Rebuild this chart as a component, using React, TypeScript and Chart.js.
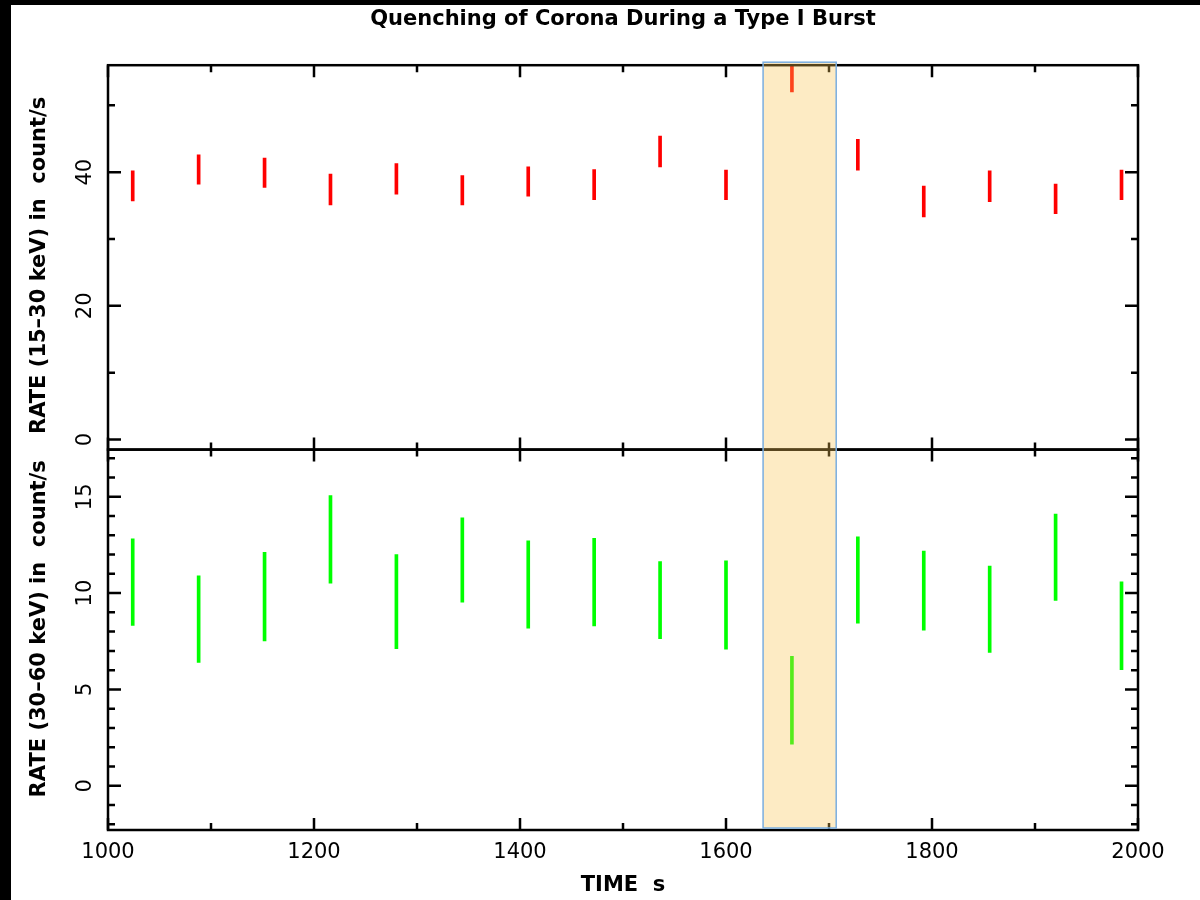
import React, { useEffect, useRef } from 'react';
import { Chart, registerables } from 'chart.js';

Chart.register(...registerables);

const TITLE = 'Quenching of Corona During a Type I Burst';
const X_TITLE = 'TIME  s';
const Y1_TITLE = 'RATE (15–30 keV) in  count/s';
const Y2_TITLE = 'RATE (30–60 keV) in  count/s';

const times = [1024, 1088, 1152, 1216, 1280, 1344, 1408, 1472, 1536, 1600, 1664, 1728, 1792, 1856, 1920, 1984];
const rate15to30 = [37.95, 40.4, 39.9, 37.4, 39.0, 37.3, 38.6, 38.15, 43.1, 38.1, 54.2, 42.6, 35.6, 37.9, 36.0, 38.1];
const err15to30 = [2.25, 2.2, 2.2, 2.3, 2.3, 2.2, 2.2, 2.25, 2.3, 2.2, 2.2, 2.3, 2.3, 2.3, 2.2, 2.2];
const rate30to60 = [10.57, 8.65, 9.82, 12.79, 9.56, 11.72, 10.45, 10.57, 9.64, 9.38, 4.44, 10.68, 10.13, 9.16, 11.86, 8.3];
const err30to60 = [2.25, 2.25, 2.3, 2.27, 2.44, 2.19, 2.27, 2.27, 2.0, 2.29, 2.28, 2.24, 2.05, 2.24, 2.24, 2.28];

const xTicks = [1000, 1200, 1400, 1600, 1800, 2000];
const xMinorStep = 100;
const y1Ticks = [0, 20, 40];
const y1MinorStep = 10;
const y2Ticks = [0, 5, 10, 15];
const y2MinorStep = 1;
const burstWindow = [1636, 1707];

const FONT = '"DejaVu Sans", sans-serif';

function minorValues(min: number, max: number, step: number, majors: number[]) {
  const out: number[] = [];
  for (let v = Math.ceil(min / step) * step; v <= max + 1e-9; v += step) {
    const r = Math.round(v * 1000) / 1000;
    if (!majors.includes(r)) out.push(r);
  }
  return out;
}

const panelPlugin = {
  id: 'panels',
  afterDraw(chart: any) {
    const { ctx, chartArea } = chart;
    const xs = chart.scales.x;
    const L = chartArea.left;
    const R = chartArea.right;
    const panels = [
      { s: chart.scales.y1, major: y1Ticks, step: y1MinorStep, title: Y1_TITLE, shift: 8 },
      { s: chart.scales.y2, major: y2Ticks, step: y2MinorStep, title: Y2_TITLE, shift: -11 },
    ];
    const xMinor = minorValues(xs.min, xs.max, xMinorStep, xTicks);
    ctx.save();
    ctx.strokeStyle = '#000';
    ctx.lineWidth = 2.5;
    ctx.lineCap = 'butt';
    for (const p of panels) {
      const T = p.s.top;
      const B = p.s.bottom;
      ctx.strokeRect(L, T, R - L, B - T);
      ctx.beginPath();
      const xt = (v: number, len: number) => {
        const px = xs.getPixelForValue(v);
        ctx.moveTo(px, T);
        ctx.lineTo(px, T + len);
        ctx.moveTo(px, B);
        ctx.lineTo(px, B - len);
      };
      xTicks.forEach((v) => xt(v, 12));
      xMinor.forEach((v) => xt(v, 7));
      const yt = (v: number, len: number) => {
        const py = p.s.getPixelForValue(v);
        ctx.moveTo(L, py);
        ctx.lineTo(L + len, py);
        ctx.moveTo(R, py);
        ctx.lineTo(R - len, py);
      };
      p.major.forEach((v) => yt(v, 13));
      minorValues(p.s.min, p.s.max, p.step, p.major).forEach((v) => yt(v, 7));
      ctx.stroke();

      ctx.fillStyle = '#000';
      ctx.textAlign = 'center';
      ctx.textBaseline = 'middle';
      ctx.font = `21px ${FONT}`;
      for (const v of p.major) {
        const py = p.s.getPixelForValue(v);
        ctx.save();
        ctx.translate(L - 22, py);
        ctx.rotate(-Math.PI / 2);
        ctx.fillText(String(v), 0, 0);
        ctx.restore();
      }
      ctx.font = `bold 21px ${FONT}`;
      ctx.save();
      ctx.translate(L - 68, (T + B) / 2 + p.shift);
      ctx.rotate(-Math.PI / 2);
      ctx.fillText(p.title, 0, 0);
      ctx.restore();
    }
    const x0 = xs.getPixelForValue(burstWindow[0]);
    const x1 = xs.getPixelForValue(burstWindow[1]);
    const top = chartArea.top - 3;
    const bottom = chartArea.bottom - 2;
    ctx.fillStyle = 'rgba(250,197,82,0.34)';
    ctx.fillRect(x0, top, x1 - x0, bottom - top);
    ctx.strokeStyle = '#7aaee0';
    ctx.lineWidth = 1.5;
    ctx.strokeRect(x0, top, x1 - x0, bottom - top);
    ctx.restore();
  },
};

export default function App() {
  const ref = useRef<HTMLCanvasElement>(null);
  useEffect(() => {
    const canvas = ref.current;
    if (!canvas) return;
    const chart = new Chart(canvas, {
      type: 'bar',
      data: {
        datasets: [
          {
            label: '15-30 keV',
            data: times.map((t, i) => ({ x: t, y: [rate15to30[i] - err15to30[i], rate15to30[i] + err15to30[i]] })) as any,
            backgroundColor: '#ff0000',
            borderWidth: 0,
            barThickness: 3,
            grouped: false,
            xAxisID: 'x',
            yAxisID: 'y1',
          },
          {
            label: '30-60 keV',
            data: times.map((t, i) => ({ x: t, y: [rate30to60[i] - err30to60[i], rate30to60[i] + err30to60[i]] })) as any,
            backgroundColor: '#00ff00',
            borderWidth: 0,
            barThickness: 3,
            grouped: false,
            xAxisID: 'x',
            yAxisID: 'y2',
          },
        ],
      },
      options: {
        responsive: false,
        animation: false,
        devicePixelRatio: 1,
        layout: { padding: { left: 0, right: 62, top: 0, bottom: 0 } },
        plugins: {
          legend: { display: false },
          tooltip: { enabled: false },
          title: {
            display: true,
            text: TITLE,
            fullSize: false,
            color: '#000',
            font: { family: FONT, size: 21, weight: 'bold' },
            padding: { top: 2, bottom: 33 },
          },
        },
        scales: {
          x: {
            type: 'linear',
            position: 'bottom',
            min: 1000,
            max: 2000,
            offset: false,
            grid: { display: false, drawTicks: false },
            border: { display: false },
            afterBuildTicks: (s: any) => {
              s.ticks = xTicks.map((v) => ({ value: v }));
            },
            afterFit: (s: any) => {
              s.height = 70;
            },
            ticks: {
              color: '#000',
              font: { family: FONT, size: 21 },
              padding: 10,
              maxRotation: 0,
              callback: (v: any) => String(v),
            },
            title: {
              display: true,
              text: X_TITLE,
              color: '#000',
              font: { family: FONT, size: 21, weight: 'bold' },
              padding: { top: 0, bottom: 2 },
            },
          },
          y1: {
            type: 'linear',
            position: 'left',
            stack: 'rates',
            stackWeight: 384,
            weight: 1,
            min: -1.5,
            max: 56,
            grid: { display: false, drawTicks: false },
            border: { display: false },
            ticks: { display: false },
            afterFit: (s: any) => {
              s.width = 97;
            },
          },
          y2: {
            type: 'linear',
            position: 'left',
            stack: 'rates',
            stackWeight: 380,
            weight: 0,
            min: -2.3,
            max: 17.45,
            grid: { display: false, drawTicks: false },
            border: { display: false },
            ticks: { display: false },
            afterFit: (s: any) => {
              s.width = 97;
            },
          },
        },
      } as any,
      plugins: [panelPlugin],
    });
    return () => chart.destroy();
  }, []);
  return (
    <div style={{ position: 'fixed', left: 0, top: 0, width: 1200, height: 900, background: '#000' }}>
      <div style={{ position: 'absolute', left: 11, top: 5, width: 1189, height: 895, background: '#fff' }}>
        <canvas ref={ref} width={1189} height={895} style={{ display: 'block' }} />
      </div>
    </div>
  );
}
